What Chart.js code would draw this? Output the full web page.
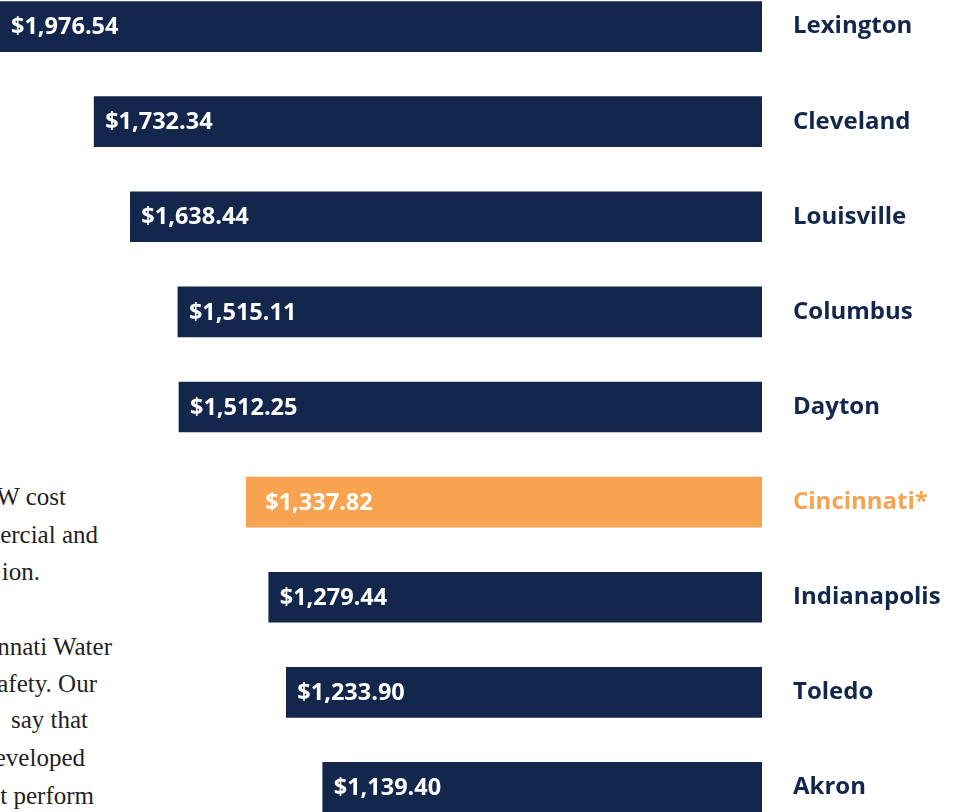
<!DOCTYPE html>
<html>
<head>
<meta charset="utf-8">
<script src="https://cdn.jsdelivr.net/npm/chart.js@4"></script>
<style>
  html, body { margin: 0; padding: 0; background: #fff; }
  body { width: 961px; height: 812px; position: relative; overflow: hidden; }
  #wrap { position: absolute; left: 0; top: -21.5px; width: 961px; height: 856px; }
  .txt { position: absolute; font-family: "Liberation Serif", serif; font-size: 25px; line-height: 30px; color: #231f20; white-space: nowrap; }
</style>
</head>
<body>
<div class="txt" style="right:895px;top:482px">W cost</div>
<div class="txt" style="right:863px;top:520px">commercial and</div>
<div class="txt" style="right:921px;top:557px">ion.</div>
<div class="txt" style="right:849px;top:632px">Cincinnati Water</div>
<div class="txt" style="right:864px;top:669px">safety. Our</div>
<div class="txt" style="right:873px;top:705px">say that</div>
<div class="txt" style="right:876px;top:743px">developed</div>
<div class="txt" style="right:867px;top:781px">t perform</div>
<div id="wrap"><canvas id="costChart"></canvas></div>
<script>
const cities = ["Lexington", "Cleveland", "Louisville", "Columbus", "Dayton", "Cincinnati*", "Indianapolis", "Toledo", "Akron"];
const costs = [1976.54, 1732.34, 1638.44, 1515.11, 1512.25, 1337.82, 1279.44, 1233.90, 1139.40];
const highlight = "Cincinnati*";

const navy = "#13264b";
const orange = "#f7a350";
const colors = cities.map(c => c === highlight ? orange : navy);

const valueLabels = {
  id: "valueLabels",
  afterDatasetsDraw(chart) {
    const ctx = chart.ctx;
    const meta = chart.getDatasetMeta(0);
    ctx.save();
    ctx.fillStyle = "#ffffff";
    ctx.font = "bold 23.5px 'Open Sans', sans-serif";
    ctx.textBaseline = "middle";
    ctx.textAlign = "left";
    meta.data.forEach((bar, i) => {
      const pad = cities[i] === highlight ? 19 : 11;
      const txt = "$" + costs[i].toLocaleString("en-US", { minimumFractionDigits: 2, maximumFractionDigits: 2 });
      ctx.fillText(txt, Math.max(bar.x, 0) + pad, bar.y + 1);
    });
    ctx.restore();
  }
};

new Chart(document.getElementById("costChart"), {
  type: "bar",
  data: {
    labels: cities,
    datasets: [{
      data: costs,
      backgroundColor: colors,
      barThickness: 50
    }]
  },
  options: {
    indexAxis: "y",
    responsive: true,
    maintainAspectRatio: false,
    animation: false,
    layout: { padding: 0 },
    plugins: {
      legend: { display: false },
      tooltip: { enabled: false }
    },
    scales: {
      x: {
        display: false,
        reverse: true,
        min: 0,
        max: 1976.54
      },
      y: {
        position: "right",
        grid: { display: false, drawTicks: false },
        border: { display: false },
        afterFit(axis) {
          axis.width = 199;
          axis.paddingTop = 0;
          axis.paddingBottom = 0;
        },
        ticks: {
          padding: 31,
          color: colors,
          font: { family: "'Open Sans', sans-serif", size: 24, weight: "bold" }
        }
      }
    }
  },
  plugins: [valueLabels]
});
</script>
</body>
</html>
